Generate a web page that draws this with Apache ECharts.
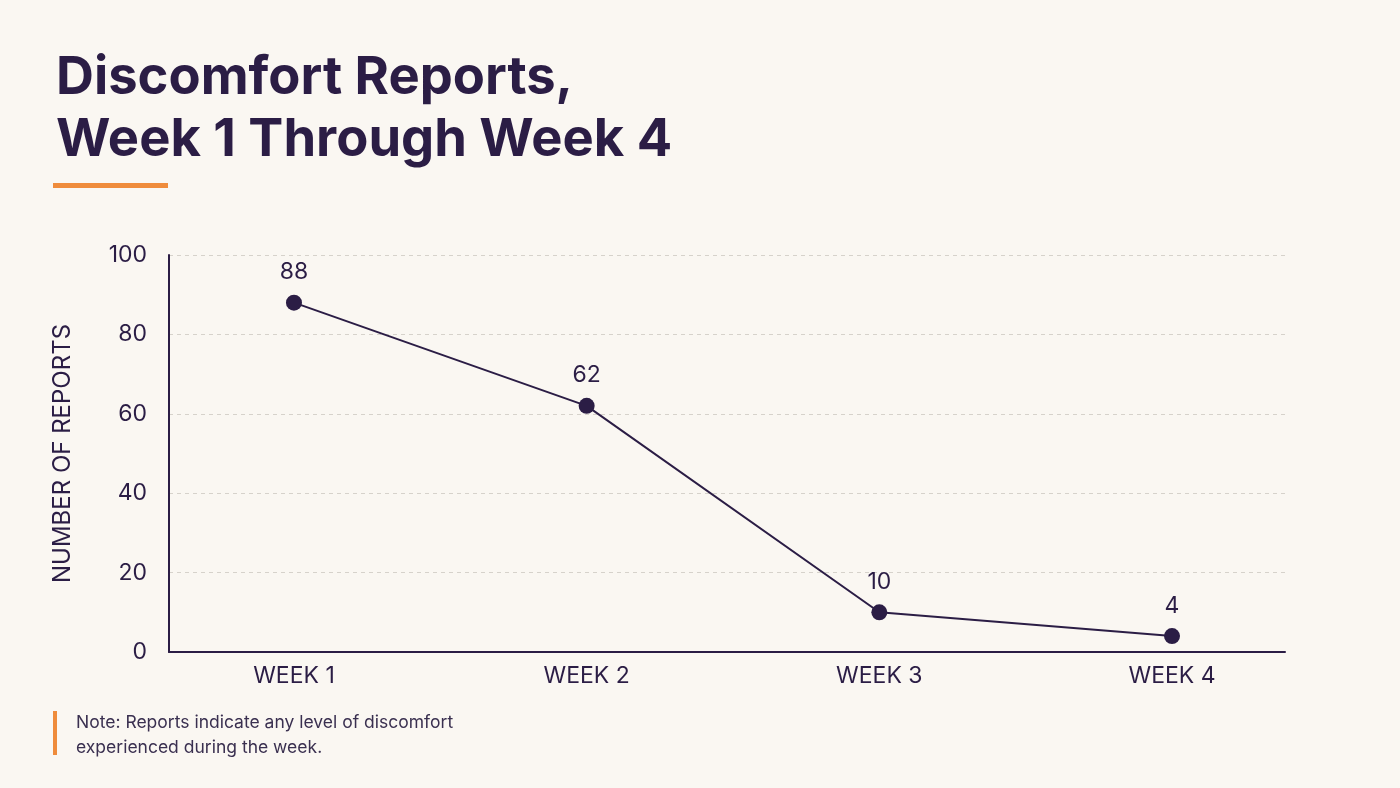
<!DOCTYPE html>
<html>
<head>
<meta charset="utf-8">
<title>Discomfort Reports</title>
<script src="https://cdn.jsdelivr.net/npm/echarts@6/dist/echarts.min.js"></script>
<style>
  html, body { margin: 0; padding: 0; background: #faf7f2; }
  #chart { width: 1400px; height: 788px; }
</style>
</head>
<body>
<div id="chart"></div>
<script>
// data
const weeks = ["WEEK 1", "WEEK 2", "WEEK 3", "WEEK 4"];
const reports = [88, 62, 10, 4];
const yTicks = [0, 20, 40, 60, 80, 100];

const ink = "#2b1d45";
const orange = "#ef8c3c";

const chart = echarts.init(document.getElementById("chart"));

let seriesData = [];
for (let i = 0; i < weeks.length; i++) {
  seriesData.push([i, reports[i]]);
}

const option = {
  backgroundColor: "#faf7f2",
  textStyle: { fontFamily: "Inter" },
  title: {
    text: "Discomfort Reports,\nWeek 1 Through Week 4",
    left: 51,
    top: 42,
    textStyle: {
      fontFamily: "Inter",
      fontSize: 52.5,
      fontWeight: 700,
      lineHeight: 62,
      color: ink,
    },
  },
  graphic: [
    // orange rule under the title
    { type: "rect", left: 53, top: 183, shape: { width: 115, height: 5 }, style: { fill: orange } },
    // note bar + text
    { type: "rect", left: 53, top: 711, shape: { width: 4, height: 44 }, style: { fill: orange } },
    {
      type: "text",
      left: 76,
      top: 710,
      style: {
        text: "Note: Reports indicate any level of discomfort\nexperienced during the week.",
        fontFamily: "Inter",
        fontSize: 17.5,
        lineHeight: 25,
        fill: "#3a3050",
      },
    },
  ],
  grid: {
    left: 169,
    right: 115,
    top: 255,
    bottom: 136,
  },
  xAxis: {
    type: "value",
    min: -0.427,
    max: 3.386,
    axisLine: { show: true, onZero: false, lineStyle: { color: ink, width: 2 } },
    axisTick: { show: false },
    splitLine: { show: false },
    axisLabel: {
      customValues: [0, 1, 2, 3],
      formatter: (v) => weeks[Math.round(v)],
      color: ink,
      fontSize: 23,
      margin: 13,
    },
  },
  yAxis: {
    type: "value",
    min: yTicks[0],
    max: yTicks[yTicks.length - 1],
    interval: 20,
    name: "NUMBER OF REPORTS",
    nameLocation: "middle",
    nameGap: 94,
    nameTextStyle: { color: ink, fontSize: 24 },
    axisLine: { show: true, onZero: false, lineStyle: { color: ink, width: 2 } },
    axisTick: { show: false },
    axisLabel: { color: ink, fontSize: 23, margin: 22 },
    splitLine: {
      show: true,
      lineStyle: { color: "#d6d2cb", type: [4, 4], width: 1 },
    },
  },
  series: [
    {
      type: "line",
      data: seriesData,
      symbol: "circle",
      symbolSize: 16,
      lineStyle: { color: ink, width: 2 },
      itemStyle: { color: ink },
      label: {
        show: true,
        position: "top",
        distance: 11,
        color: ink,
        fontSize: 23,
        formatter: (p) => p.value[1],
      },
    },
  ],
};

chart.setOption(option);
</script>
</body>
</html>
